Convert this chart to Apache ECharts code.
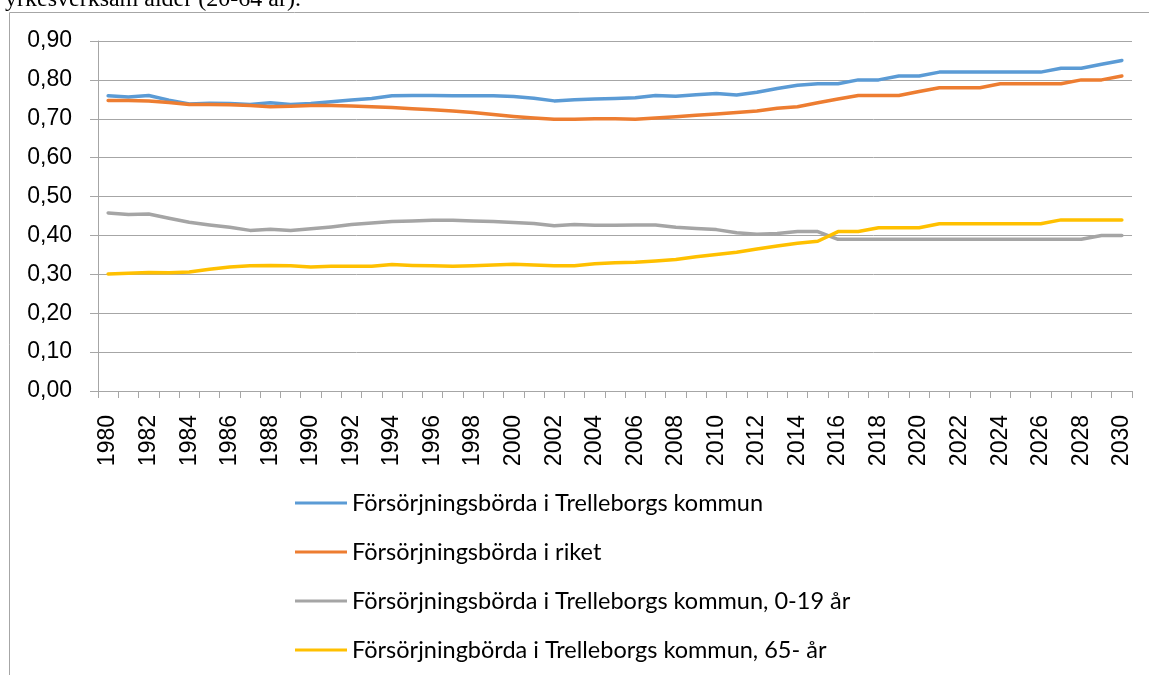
<!DOCTYPE html>
<html>
<head>
<meta charset="utf-8">
<script src="https://cdn.jsdelivr.net/npm/echarts@6/dist/echarts.min.js"></script>
<style>
  html, body { margin: 0; padding: 0; background: #fff; }
  #chart { width: 1149px; height: 675px; }
</style>
</head>
<body>
<div id="chart"></div>
<script>
const years = ['1980', '1981', '1982', '1983', '1984', '1985', '1986', '1987', '1988', '1989',
  '1990', '1991', '1992', '1993', '1994', '1995', '1996', '1997', '1998', '1999',
  '2000', '2001', '2002', '2003', '2004', '2005', '2006', '2007', '2008', '2009',
  '2010', '2011', '2012', '2013', '2014', '2015', '2016', '2017', '2018', '2019',
  '2020', '2021', '2022', '2023', '2024', '2025', '2026', '2027', '2028', '2029', '2030']

const seriesNames = [
  'Försörjningsbörda i Trelleborgs kommun',
  'Försörjningsbörda i riket',
  'Försörjningsbörda i Trelleborgs kommun, 0-19 år',
  'Försörjningbörda i Trelleborgs kommun, 65- år'
]
const seriesColors = ['#5b9bd5', '#ed7d31', '#a5a5a5', '#ffc000']

// totalt, Trelleborg
const trelleborg = [0.759, 0.756, 0.760, 0.748, 0.738, 0.740, 0.739, 0.737, 0.741, 0.737,
  0.739, 0.744, 0.748, 0.752, 0.759, 0.760, 0.760, 0.759, 0.759, 0.759,
  0.757, 0.753, 0.746, 0.749, 0.751, 0.752, 0.754, 0.760, 0.758, 0.762,
  0.765, 0.761, 0.768, 0.778, 0.786, 0.790, 0.790, 0.800, 0.800, 0.810,
  0.810, 0.820, 0.820, 0.820, 0.820, 0.820, 0.820, 0.830, 0.830, 0.840, 0.850]

// totalt, riket
const riket = [0.747, 0.747, 0.746, 0.742, 0.737, 0.737, 0.736, 0.734, 0.731, 0.732,
  0.734, 0.734, 0.733, 0.731, 0.729, 0.726, 0.723, 0.720, 0.716, 0.711,
  0.706, 0.702, 0.699, 0.699, 0.700, 0.700, 0.699, 0.702, 0.705, 0.709,
  0.712, 0.716, 0.720, 0.727, 0.731, 0.741, 0.751, 0.760, 0.760, 0.760,
  0.770, 0.780, 0.780, 0.780, 0.790, 0.790, 0.790, 0.790, 0.800, 0.800, 0.810]

// 0-19 år
const unga = [0.458, 0.454, 0.455, 0.444, 0.434, 0.427, 0.421, 0.413, 0.416, 0.413,
  0.417, 0.422, 0.428, 0.432, 0.436, 0.437, 0.439, 0.439, 0.437, 0.436,
  0.433, 0.431, 0.425, 0.428, 0.426, 0.426, 0.427, 0.427, 0.421, 0.418,
  0.415, 0.407, 0.403, 0.405, 0.410, 0.410, 0.390, 0.390, 0.390, 0.390,
  0.390, 0.390, 0.390, 0.390, 0.390, 0.390, 0.390, 0.390, 0.390, 0.400, 0.400]

// 65- år
const aldre = [0.301, 0.303, 0.305, 0.304, 0.306, 0.313, 0.319, 0.322, 0.323, 0.322,
  0.319, 0.321, 0.321, 0.321, 0.325, 0.323, 0.322, 0.321, 0.322, 0.324,
  0.326, 0.324, 0.322, 0.322, 0.327, 0.330, 0.331, 0.334, 0.338, 0.345,
  0.351, 0.357, 0.365, 0.373, 0.380, 0.385, 0.410, 0.410, 0.420, 0.420,
  0.420, 0.430, 0.430, 0.430, 0.430, 0.430, 0.430, 0.440, 0.440, 0.440, 0.440]

const seriesData = [trelleborg, riket, unga, aldre]

const chart = echarts.init(document.getElementById('chart'), null, { renderer: 'canvas' })

chart.setOption({
  animation: false,
  backgroundColor: '#fff',
  color: seriesColors,
  graphic: [
    {
      type: 'rect',
      silent: true,
      shape: { x: 9.5, y: 12.5, width: 1200, height: 700 },
      style: { fill: 'none', stroke: '#a6a6a6', lineWidth: 1 }
    },
    {
      type: 'text',
      silent: true,
      style: {
        x: 5,
        y: 12,
        text: 'yrkesverksam ålder (20-64 år).',
        font: '24px "Liberation Serif", serif',
        fill: '#000',
        verticalAlign: 'bottom'
      }
    }
  ],
  grid: {
    left: 98,
    right: 17,
    top: 41,
    bottom: 284
  },
  legend: {
    orient: 'vertical',
    left: 290,
    top: 486,
    itemWidth: 52,
    itemHeight: 14,
    itemGap: 25,
    icon: 'path://M0,5.5 L52,5.5 L52,8.5 L0,8.5 Z',
    textStyle: {
      fontFamily: 'Lato',
      fontSize: 23.5,
      lineHeight: 24,
      color: '#000'
    },
    data: seriesNames
  },
  xAxis: {
    type: 'category',
    data: years,
    boundaryGap: true,
    axisLine: { lineStyle: { color: '#a6a6a6', width: 1 } },
    axisTick: { show: true, interval: 0, length: 7, lineStyle: { color: '#a6a6a6' } },
    axisLabel: {
      interval: 1,
      rotate: 90,
      margin: 24,
      fontFamily: '"Liberation Sans", Arial, sans-serif',
      fontSize: 23,
      color: '#000'
    },
    splitLine: { show: false }
  },
  yAxis: {
    type: 'value',
    min: 0,
    max: 0.9,
    interval: 0.1,
    axisLine: { show: true, lineStyle: { color: '#a6a6a6', width: 1 } },
    axisTick: { show: true, length: 8, lineStyle: { color: '#a6a6a6' } },
    axisLabel: {
      margin: 26,
      fontFamily: '"Liberation Sans", Arial, sans-serif',
      fontSize: 23,
      color: '#000',
      formatter: v => v.toFixed(2).replace('.', ',')
    },
    splitLine: { show: true, lineStyle: { color: '#a6a6a6', width: 1 } }
  },
  series: seriesNames.map((name, i) => ({
    name: name,
    type: 'line',
    data: seriesData[i],
    symbol: 'none',
    smooth: false,
    lineStyle: { width: 3.5, color: seriesColors[i], cap: 'round', join: 'round' },
    itemStyle: { color: seriesColors[i] }
  }))
})
</script>
</body>
</html>
